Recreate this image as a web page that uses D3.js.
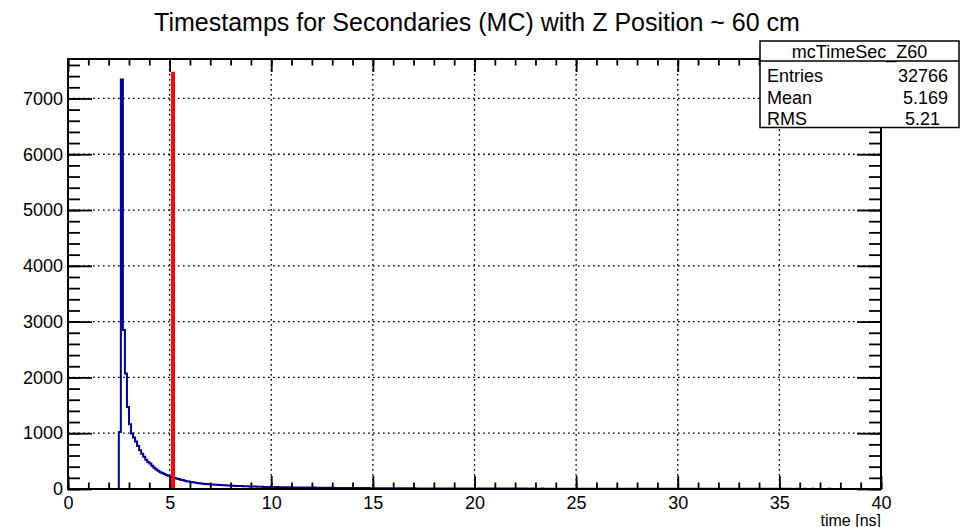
<!DOCTYPE html>
<html>
<head>
<meta charset="utf-8">
<script src="https://cdn.jsdelivr.net/npm/d3@7"></script>
<style>
  html, body { margin: 0; padding: 0; background: #fff; }
  svg { display: block; font-family: "Liberation Sans", Arial, Helvetica, sans-serif; }
</style>
</head>
<body>
<svg id="chart" width="961" height="527"></svg>
<script>
// Histogram: time of secondaries, 0.1 ns bins starting at 2.5 ns
const chartTitle = "Timestamps for Secondaries (MC) with Z Position ~ 60 cm";
const xAxisTitle = "time [ns]";
const binLow = 2.5;
const binWidth = 0.1;
const counts = [
  1020, 7340, 2850, 2070, 1470,
  1160, 995, 925, 850, 770, 695, 630, 580, 525, 485,
  455, 415, 380, 348, 325, 302, 285, 268, 250, 238,
  226, 210, 199, 188, 180, 168, 160, 149, 140, 133,
  127, 120, 115, 109, 104, 99, 95, 91, 88, 84,
  82, 79, 77, 74, 72, 70, 67, 66, 63, 61,
  60, 58, 56, 55, 53, 52, 50, 49, 48, 46,
  45, 44, 43, 41, 41, 40, 38, 38, 37, 36,
  36, 35, 34, 34, 33, 32, 32, 31, 30, 30,
  29, 29, 28, 28, 27, 27, 26, 26, 25, 25,
  24, 25, 24, 23, 23, 22, 23, 22, 21, 21,
  21, 20, 20, 20, 19, 19, 19, 18, 18, 18,
  18, 17, 17, 17, 16, 17, 16, 16, 15, 15,
  15, 15, 14, 15, 14, 14, 14, 13, 13, 14,
  13, 13, 13, 12, 13, 12, 12, 12, 12, 11,
  12, 11, 11, 11, 11, 11, 10, 11, 10, 10,
  10, 10, 10, 10, 9, 10, 9, 9, 9, 9,
  9, 9, 9, 9, 8, 9, 8, 8, 8, 8,
  8, 8, 8, 8, 8, 7, 8, 7, 7, 8,
  7, 7, 7, 8, 7, 7, 7, 7, 6, 7,
  7, 6, 7, 7, 6, 7, 6, 6, 7, 6,
  6, 6, 6, 7, 6, 6, 6, 5, 6, 6,
  6, 6, 5, 6, 6, 5, 6, 5, 6, 5,
  5, 6, 5, 5, 6, 5, 5, 5, 5, 6,
  5, 5, 5, 5, 4, 5, 5, 5, 5, 4,
  5, 5, 4, 5, 4, 5, 4, 5, 4, 5,
  4, 4, 5, 4, 4, 4, 5, 4, 4, 4,
  4, 4, 4, 4, 4, 3, 4, 4, 4, 4,
  4, 3, 4, 4, 3, 4, 3, 4, 3, 4,
  3, 4, 3, 3, 4, 3, 3, 3, 4, 3,
  3, 3, 3, 3, 3, 4, 3, 3, 3, 3,
  3, 3, 3, 3, 2, 3, 3, 3, 3, 3,
  3, 2, 3, 3, 3, 2, 3, 2, 3, 3,
  2, 3, 2, 3, 2, 3, 2, 2, 3, 2,
  2, 2, 3, 2, 2, 2, 3, 2, 2, 2,
  2, 2, 2, 2, 3, 2, 2, 2, 2, 2,
  2, 2, 2, 1, 2, 2, 2, 2, 2, 1,
  2, 2, 1, 2, 2, 1, 2, 2, 1, 2
];
const xDomain = [0, 40];
const yDomain = [0, 7707];
const xMajorTicks = [0, 5, 10, 15, 20, 25, 30, 35, 40];
const xMinorTicks = d3.range(0, 41, 1);
const yMajorTicks = [0, 1000, 2000, 3000, 4000, 5000, 6000, 7000];
const yMinorTicks = d3.range(0, 7701, 200);

// Statistics box
const statsName = "mcTimeSec_Z60";
const statsLabels = ["Entries", "Mean", "RMS"];
const statsValues = ["32766", "5.169", "5.21"];
const meanValue = 5.169;
const meanLineTop = 7480;

const svg = d3.select("#chart");
const frame = { left: 68, right: 881, top: 59, bottom: 489 };

const x = d3.scaleLinear().domain(xDomain).range([frame.left, frame.right]);
const y = d3.scaleLinear().domain(yDomain).range([frame.bottom, frame.top]);

// Dotted grid at the major ticks
const grid = svg.append("g").attr("stroke", "#000").attr("stroke-width", 1.3)
  .attr("stroke-dasharray", "1.7,3.3");
grid.selectAll("line.gx").data(xMajorTicks.filter(t => t > xDomain[0] && t < xDomain[1]))
  .join("line").attr("class", "gx")
  .attr("x1", d => x(d)).attr("x2", d => x(d))
  .attr("y1", frame.top).attr("y2", frame.bottom);
grid.selectAll("line.gy").data(yMajorTicks.filter(t => t > 0))
  .join("line").attr("class", "gy")
  .attr("x1", frame.left).attr("x2", frame.right)
  .attr("y1", d => y(d)).attr("y2", d => y(d));

// Histogram outline
const pts = [[x(binLow), y(0)]];
counts.forEach((c, i) => {
  const lo = binLow + i * binWidth, hi = lo + binWidth;
  pts.push([x(lo), y(c)], [x(hi), y(c)]);
});
pts.push([x(binLow + counts.length * binWidth), y(0)]);
svg.append("path")
  .attr("d", d3.line()(pts))
  .attr("fill", "none")
  .attr("stroke", "#000099")
  .attr("stroke-width", 2)
  .attr("stroke-linejoin", "miter");

// Mean marker
svg.append("line")
  .attr("x1", x(meanValue)).attr("x2", x(meanValue))
  .attr("y1", y(0)).attr("y2", y(meanLineTop))
  .attr("stroke", "#ff0000").attr("stroke-width", 4);

// Axes with ticks drawn inside the frame on all four sides
const xMajorLen = 13, xMinorLen = 6.5, yMajorLen = 24, yMinorLen = 12;
function styleAxis(g) {
  g.select(".domain").remove();
  g.selectAll(".tick line").attr("stroke", "#000").attr("stroke-width", 1.8);
  g.selectAll("text").attr("fill", "#000").attr("font-size", 18)
    .attr("font-family", "'Liberation Sans', Arial, Helvetica, sans-serif");
}
svg.append("g").attr("transform", `translate(0,${frame.bottom})`)
  .call(d3.axisBottom(x).tickValues(xMinorTicks).tickSize(-xMinorLen).tickFormat(""))
  .call(styleAxis);
svg.append("g").attr("transform", `translate(0,${frame.bottom})`)
  .call(d3.axisBottom(x).tickValues(xMajorTicks).tickSize(-xMajorLen).tickPadding(7).tickFormat(d3.format("d")))
  .call(styleAxis);
svg.append("g").attr("transform", `translate(0,${frame.top})`)
  .call(d3.axisTop(x).tickValues(xMinorTicks).tickSize(-xMinorLen).tickFormat(""))
  .call(styleAxis);
svg.append("g").attr("transform", `translate(0,${frame.top})`)
  .call(d3.axisTop(x).tickValues(xMajorTicks).tickSize(-xMajorLen).tickFormat(""))
  .call(styleAxis);
svg.append("g").attr("transform", `translate(${frame.left},0)`)
  .call(d3.axisLeft(y).tickValues(yMinorTicks).tickSize(-yMinorLen).tickFormat(""))
  .call(styleAxis);
svg.append("g").attr("transform", `translate(${frame.left},0)`)
  .call(d3.axisLeft(y).tickValues(yMajorTicks).tickSize(-yMajorLen).tickPadding(5).tickFormat(d3.format("d")))
  .call(styleAxis);
svg.append("g").attr("transform", `translate(${frame.right},0)`)
  .call(d3.axisRight(y).tickValues(yMinorTicks).tickSize(-yMinorLen).tickFormat(""))
  .call(styleAxis);
svg.append("g").attr("transform", `translate(${frame.right},0)`)
  .call(d3.axisRight(y).tickValues(yMajorTicks).tickSize(-yMajorLen).tickFormat(""))
  .call(styleAxis);

// Frame
svg.append("rect")
  .attr("x", frame.left).attr("y", frame.top)
  .attr("width", frame.right - frame.left).attr("height", frame.bottom - frame.top)
  .attr("fill", "none").attr("stroke", "#000").attr("stroke-width", 2);

// Axis title
svg.append("text")
  .attr("x", frame.right).attr("y", 525.5)
  .attr("text-anchor", "end").attr("font-size", 16)
  .text(xAxisTitle);

// Title
svg.append("text")
  .attr("x", 477).attr("y", 31)
  .attr("text-anchor", "middle").attr("font-size", 25)
  .text(chartTitle);

// Statistics box
const box = { left: 760, right: 959, top: 41, header: 61, bottom: 127.5 };
const sg = svg.append("g");
sg.append("rect")
  .attr("x", box.left).attr("y", box.top)
  .attr("width", box.right - box.left).attr("height", box.bottom - box.top)
  .attr("fill", "#fff").attr("stroke", "#000").attr("stroke-width", 1.5);
sg.append("line")
  .attr("x1", box.left).attr("x2", box.right)
  .attr("y1", box.header).attr("y2", box.header)
  .attr("stroke", "#000").attr("stroke-width", 1.5);
sg.append("text")
  .attr("x", (box.left + box.right) / 2).attr("y", 57.5)
  .attr("text-anchor", "middle").attr("font-size", 18)
  .text(statsName);
const rowBase = [82, 103.5, 125];
const valueRight = [948, 948, 940];
statsLabels.forEach((lab, i) => {
  sg.append("text").attr("x", 767).attr("y", rowBase[i])
    .attr("font-size", 18).text(lab);
  sg.append("text").attr("x", valueRight[i]).attr("y", rowBase[i])
    .attr("text-anchor", "end").attr("font-size", 18).text(statsValues[i]);
});
</script>
</body>
</html>
